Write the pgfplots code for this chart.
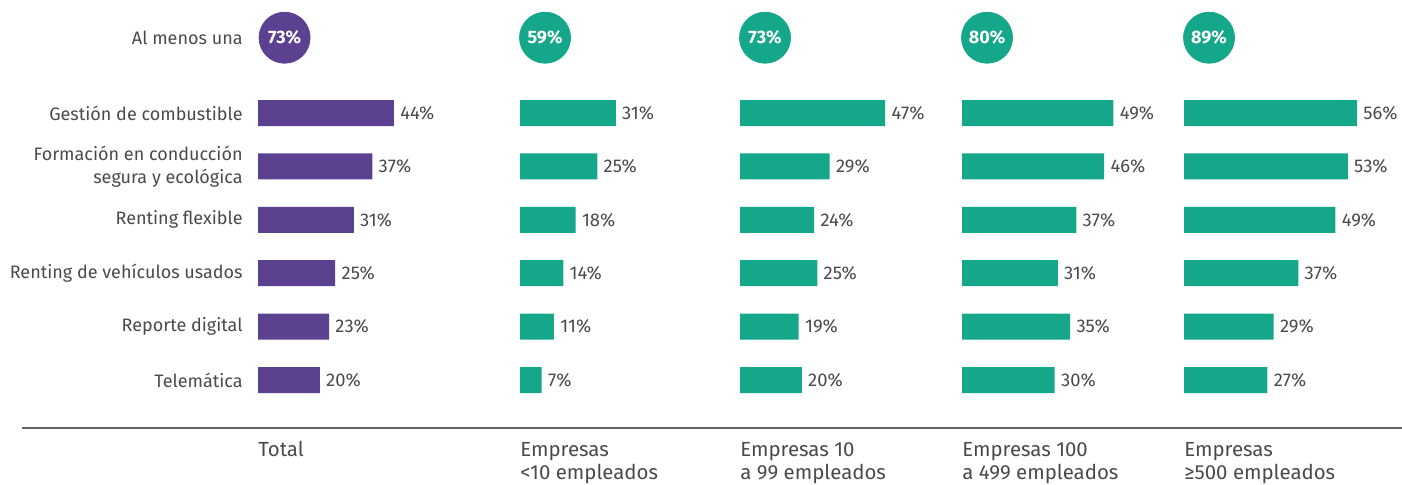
\documentclass[border=0pt]{standalone}
\usepackage{pgfplots}
\usepackage{pgfplotstable}
\pgfplotsset{compat=1.18}
\usepackage{fontspec}
\setmainfont{Fira Sans}
\definecolor{txt}{HTML}{4A4A4A}
\definecolor{lila}{HTML}{5C4191}
\definecolor{verde}{HTML}{15A789}
\definecolor{linea}{HTML}{666666}

\pgfplotstableread{
r v
6 44
5 37
4 31
3 25
2 23
1 20
}\tTotal
\pgfplotstableread{
r v
6 31
5 25
4 18
3 14
2 11
1 7
}\tA
\pgfplotstableread{
r v
6 47
5 29
4 24
3 25
2 19
1 20
}\tB
\pgfplotstableread{
r v
6 49
5 46
4 37
3 31
2 35
1 30
}\tC
\pgfplotstableread{
r v
6 56
5 53
4 49
3 37
2 29
1 27
}\tD

\pgfplotsset{
  panel/.style={
    x=1.545pt, y=26.7pt,
    xmin=0, xmax=60, ymin=0.5, ymax=7.9,
    axis line style={draw=none}, tick style={draw=none},
    major tick length=0pt,
    xtick=\empty, ytick=\empty,
    clip=false, anchor=south west,
    /pgf/number format/assume math mode=true,
    font=\fontsize{9}{11.5}\selectfont,
  },
  barplot/.style={
    xbar, bar width=13pt, draw=none, fill=#1,
    nodes near coords={\pgfmathprintnumber{\pgfplotspointmeta}\%},
    point meta=x,
    nodes near coords style={anchor=west, text=txt, inner sep=3pt, font=\fontsize{9.2}{11}\selectfont},
  },
  circ/.style={
    only marks, mark=*, mark size=12.75pt, color=#1,
    point meta=explicit symbolic,
    nodes near coords,
    nodes near coords style={anchor=center, text=white, font=\fontsize{9}{11}\selectfont\bfseries},
  },
}

\begin{document}
\begin{tikzpicture}
\path[use as bounding box] (0pt,0pt) rectangle (701pt,242pt);

\begin{axis}[panel, at={(129pt,38.65pt)},
  ytick={1,2,3,4,5,6,7.41},
  yticklabels={Telemática, Reporte digital, Renting de vehículos usados, Renting flexible, {Formación en conducción\\segura y ecológica}, Gestión de combustible, Al menos una},
  yticklabel style={align=right, text=txt, inner sep=0pt, xshift=-7.5pt, font=\fontsize{9}{11.5}\selectfont}]
\addplot[barplot=lila] table[x=v,y=r]{\tTotal};
\addplot[circ=lila] coordinates {(8.6,7.41) [73\%]};
\end{axis}

\begin{axis}[panel, at={(260pt,38.65pt)}]
\addplot[barplot=verde] table[x=v,y=r]{\tA};
\addplot[circ=verde] coordinates {(8.1,7.41) [59\%]};
\end{axis}

\begin{axis}[panel, at={(370pt,38.65pt)}]
\addplot[barplot=verde] table[x=v,y=r]{\tB};
\addplot[circ=verde] coordinates {(8.1,7.41) [73\%]};
\end{axis}

\begin{axis}[panel, at={(481pt,38.65pt)}]
\addplot[barplot=verde] table[x=v,y=r]{\tC};
\addplot[circ=verde] coordinates {(8.1,7.41) [80\%]};
\end{axis}

\begin{axis}[panel, at={(592pt,38.65pt)}]
\addplot[barplot=verde] table[x=v,y=r]{\tD};
\addplot[circ=verde] coordinates {(8.1,7.41) [89\%]};
\end{axis}

\draw[linea, line width=1pt] (11pt,28pt) -- (701pt,28pt);

\begin{scope}[every node/.style={anchor=base west, inner sep=0pt, text=txt, font=\fontsize{10.2}{12}\selectfont}]
\node at (129pt,14pt) {Total};
\node at (260pt,14pt) {Empresas};
\node at (260pt,2.5pt) {<10 empleados};
\node at (370pt,14pt) {Empresas 10};
\node at (370pt,2.5pt) {a 99 empleados};
\node at (481pt,14pt) {Empresas 100};
\node at (481pt,2.5pt) {a 499 empleados};
\node at (592pt,14pt) {Empresas};
\node at (592pt,2.5pt) {≥500 empleados};
\end{scope}
\end{tikzpicture}
\end{document}
